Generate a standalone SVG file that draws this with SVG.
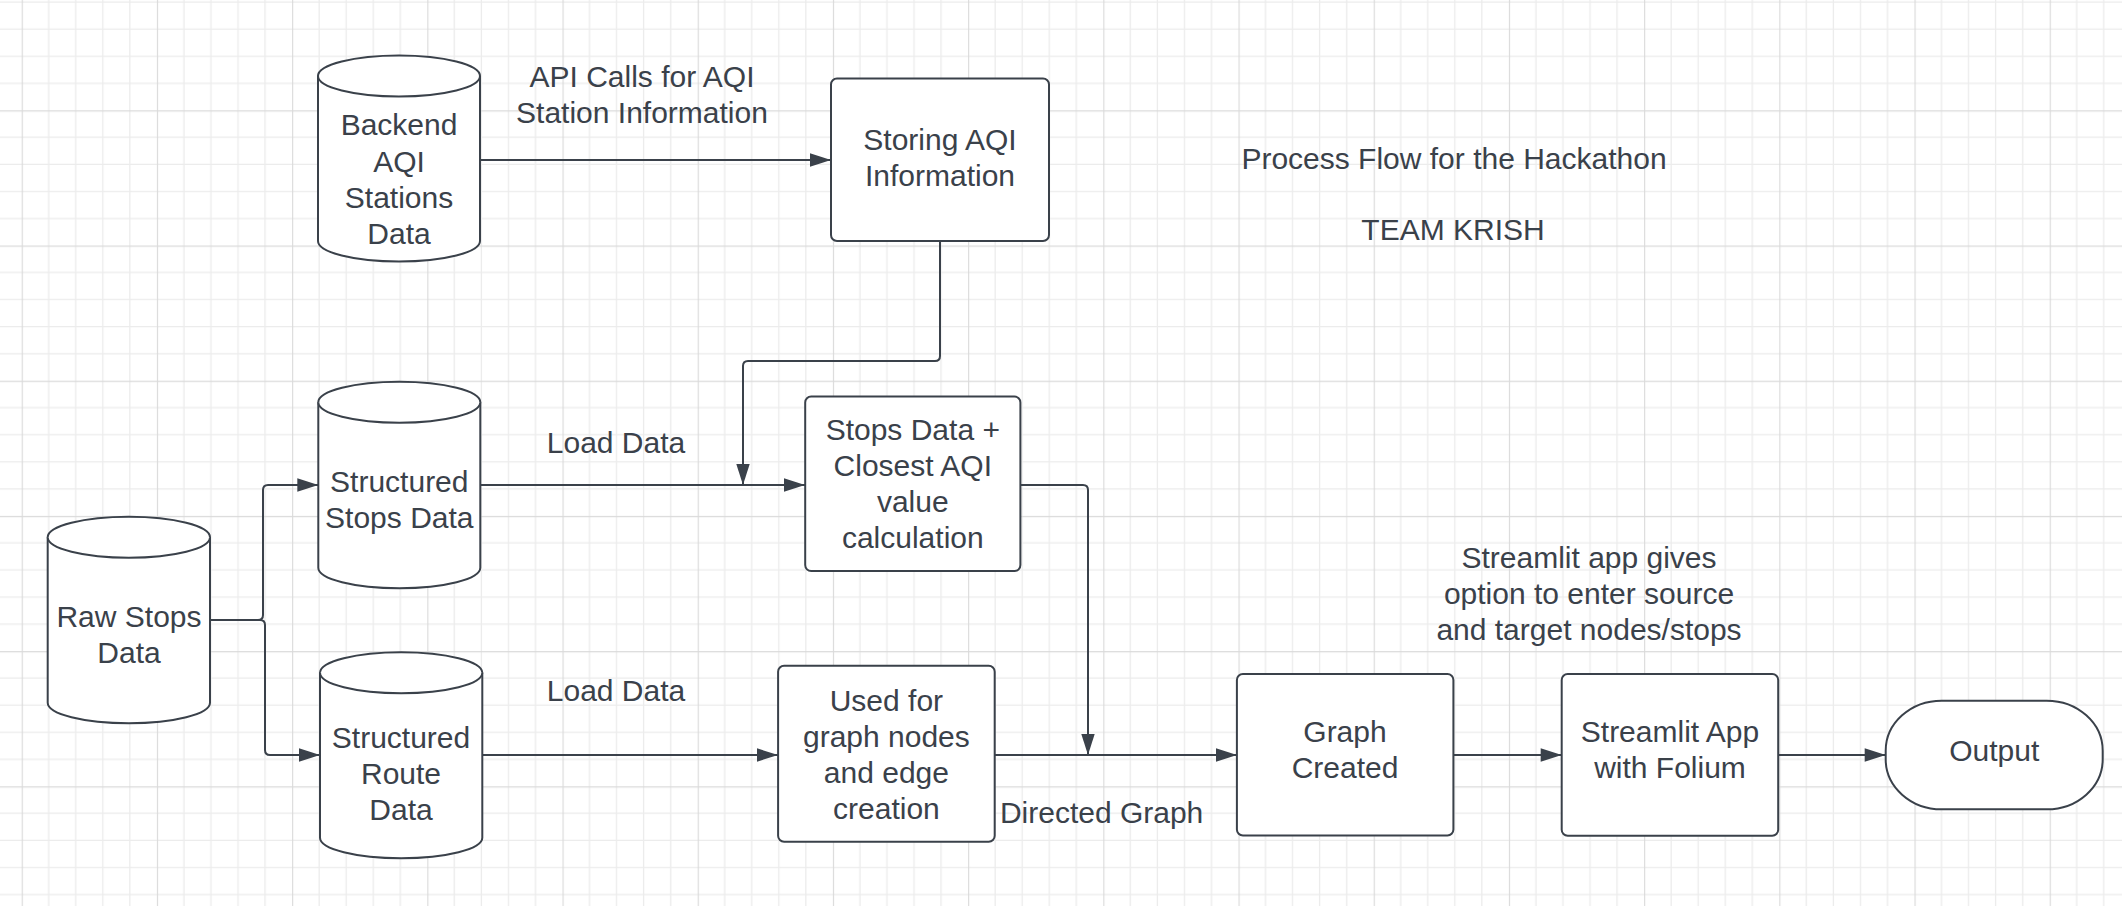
<svg xmlns="http://www.w3.org/2000/svg" width="2122" height="906" viewBox="0 0 2122 906">
<defs>
<pattern id="grid" patternUnits="userSpaceOnUse" x="21.7" y="110.3" width="135.2" height="135.2">
<path d="M27.04,0V135.2M54.08,0V135.2M81.12,0V135.2M108.16,0V135.2M0,27.04H135.2M0,54.08H135.2M0,81.12H135.2M0,108.16H135.2" stroke="#ececec" stroke-width="1.3" fill="none"/>
<path d="M0.5,0V135.2M0,0.5H135.2" stroke="#dadada" stroke-width="1.3" fill="none"/>
</pattern>
<marker id="arr" markerUnits="userSpaceOnUse" markerWidth="22" markerHeight="14" viewBox="0 0 21 14" refX="21" refY="7" orient="auto">
<path d="M0,0.3L21,7L0,13.7Z" fill="#3a414a"/>
</marker>
</defs>
<style>
.shape{fill:#ffffff;stroke:#3a414a;stroke-width:2}
.edge{fill:none;stroke:#3a414a;stroke-width:2;marker-end:url(#arr)}
text{font-family:"Liberation Sans",Arial,sans-serif;font-size:30px;fill:#3a414a;text-anchor:middle}
</style>
<rect width="2122" height="906" fill="#ffffff"/>
<rect width="2122" height="906" fill="url(#grid)"/>

<g id="connectors">
<path class="edge" d="M210,620H258Q263,620 263,615V490Q263,485 268,485H318.3"/>
<path class="edge" d="M210,620H260Q265,620 265,625V750Q265,755 270,755H320"/>
<path class="edge" d="M480,160H831"/>
<path class="edge" d="M940,241V356Q940,361 935,361H748Q743,361 743,366V485"/>
<path class="edge" d="M480.3,485H805"/>
<path class="edge" d="M1020.4,485H1083Q1088,485 1088,490V755"/>
<path class="edge" d="M482.3,755H778"/>
<path class="edge" d="M995,755H1237"/>
<path class="edge" d="M1453.4,755H1561.7"/>
<path class="edge" d="M1778.2,755H1885.7"/>
</g>

<g id="label-api">
<text x="642" y="86.5">API Calls for AQI</text>
<text x="642" y="122.5">Station Information</text>
</g>
<g id="label-load1"><text x="616" y="453">Load Data</text></g>
<g id="label-load2"><text x="616" y="701">Load Data</text></g>
<g id="label-directed"><text x="1101.6" y="823">Directed Graph</text></g>
<g id="label-streamlit">
<text x="1589" y="568">Streamlit app gives</text>
<text x="1589" y="604">option to enter source</text>
<text x="1589" y="640">and target nodes/stops</text>
</g>
<g id="title">
<text x="1454" y="169">Process Flow for the Hackathon</text>
<text x="1453" y="240">TEAM KRISH</text>
</g>

<g id="backend">
<path class="shape" d="M318,76A81,20.5 0 0 1 480,76V241A81,20.5 0 0 1 318,241Z"/>
<path class="shape" d="M318,76A81,20.5 0 0 0 480,76" fill="none"/>
<text x="399" y="135">Backend</text>
<text x="399" y="171.5">AQI</text>
<text x="399" y="207.5">Stations</text>
<text x="399" y="243.5">Data</text>
</g>

<g id="raw-stops">
<path class="shape" d="M47.7,537.2A81.15,20.5 0 0 1 210,537.2V702.8A81.15,20.5 0 0 1 47.7,702.8Z"/>
<path class="shape" d="M47.7,537.2A81.15,20.5 0 0 0 210,537.2" fill="none"/>
<text x="129" y="626.7">Raw Stops</text>
<text x="129" y="662.7">Data</text>
</g>

<g id="structured-stops">
<path class="shape" d="M318.3,402.2A81,20.5 0 0 1 480.3,402.2V567.8A81,20.5 0 0 1 318.3,567.8Z"/>
<path class="shape" d="M318.3,402.2A81,20.5 0 0 0 480.3,402.2" fill="none"/>
<text x="399.3" y="491.7">Structured</text>
<text x="399.3" y="527.7">Stops Data</text>
</g>

<g id="structured-route">
<path class="shape" d="M320,672.8A81.15,20.5 0 0 1 482.3,672.8V837.8A81.15,20.5 0 0 1 320,837.8Z"/>
<path class="shape" d="M320,672.8A81.15,20.5 0 0 0 482.3,672.8" fill="none"/>
<text x="401" y="747.5">Structured</text>
<text x="401" y="783.5">Route</text>
<text x="401" y="819.5">Data</text>
</g>

<g id="storing">
<rect class="shape" x="831" y="78.5" width="218" height="162.5" rx="6"/>
<text x="940" y="149.5">Storing AQI</text>
<text x="940" y="185.5">Information</text>
</g>

<g id="stops-calc">
<rect class="shape" x="805.2" y="396.5" width="215.2" height="174.6" rx="6"/>
<text x="912.8" y="440">Stops Data +</text>
<text x="912.8" y="476">Closest AQI</text>
<text x="912.8" y="512">value</text>
<text x="912.8" y="548">calculation</text>
</g>

<g id="graph-creation">
<rect class="shape" x="778.1" y="665.8" width="216.6" height="176" rx="6"/>
<text x="886.4" y="710.5">Used for</text>
<text x="886.4" y="746.5">graph nodes</text>
<text x="886.4" y="782.5">and edge</text>
<text x="886.4" y="818.5">creation</text>
</g>

<g id="graph-created">
<rect class="shape" x="1236.9" y="674" width="216.5" height="161.5" rx="6"/>
<text x="1345" y="742">Graph</text>
<text x="1345" y="778">Created</text>
</g>

<g id="streamlit-app">
<rect class="shape" x="1561.7" y="674" width="216.5" height="161.7" rx="6"/>
<text x="1670" y="742">Streamlit App</text>
<text x="1670" y="778">with Folium</text>
</g>

<g id="output">
<rect class="shape" x="1885.7" y="700.7" width="217" height="108.6" rx="56" ry="50"/>
<text x="1994.2" y="761">Output</text>
</g>
</svg>
